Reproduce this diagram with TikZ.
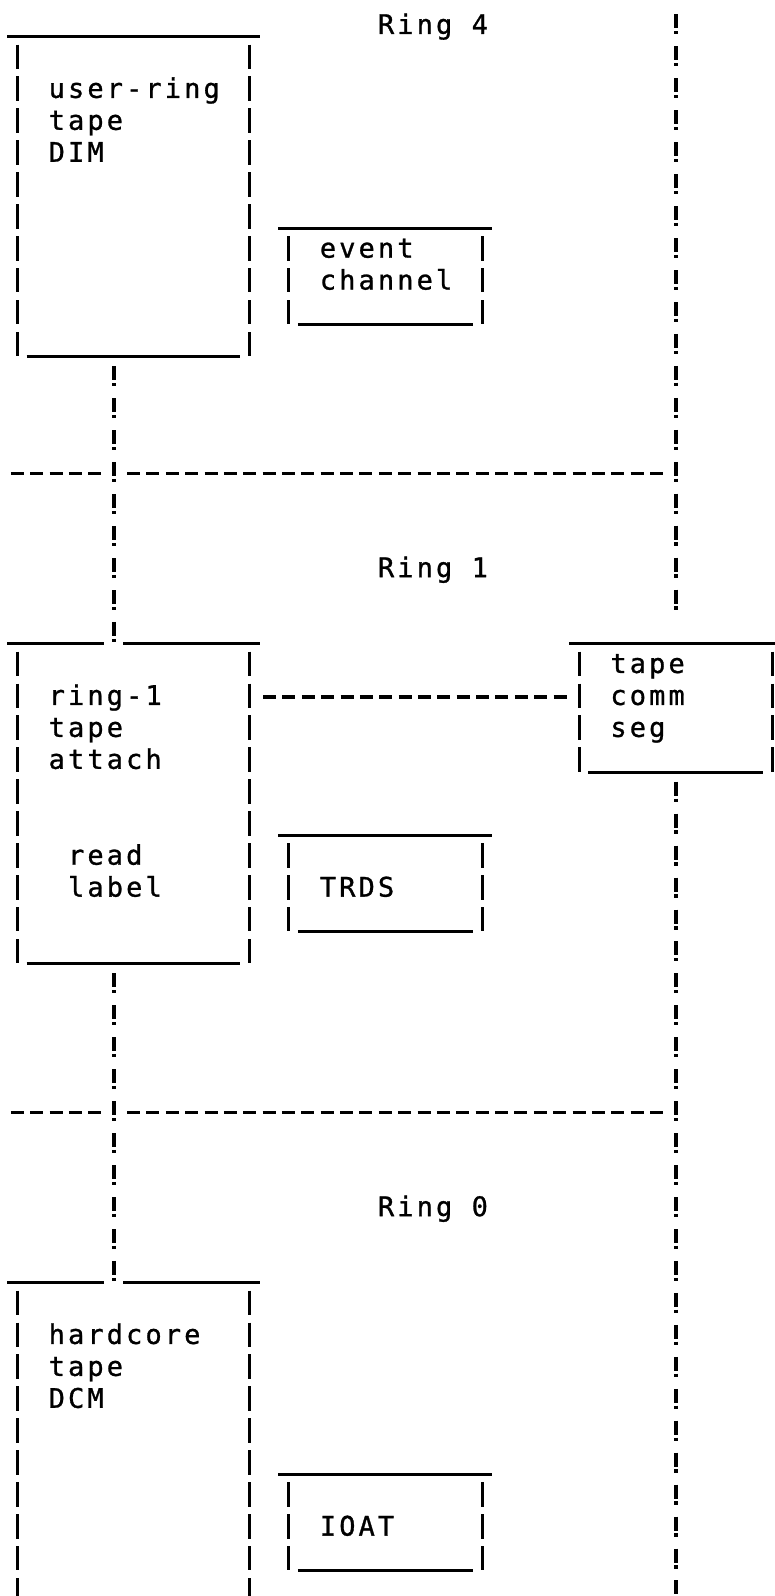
\documentclass[tikz,border=0pt]{standalone}
\usepackage{fontspec}
\newfontfamily\tapefont[LetterSpace=11.5, FakeBold=1]{DejaVu Sans Mono}
\usetikzlibrary{calc, fit}

\begin{document}
\begin{tikzpicture}[x=9.685pt, y=-15.975pt,
  slot/.style={inner sep=0pt},
  rule/.style={line width=1.4pt},
  bar/.style={line width=1.5pt},
  bang/.style={line width=1.7pt, dash pattern=on 7pt off 1.4pt on 1.6pt off 5.975pt},
  ringline/.style={line width=1.6pt, dash pattern=on 6.5pt off 3.185pt},
  txt/.style={font=\tapefont\fontsize{13.5pt}{16pt}\selectfont, anchor=base west, inner sep=0pt}]
\useasboundingbox (-0.893,-0.814) rectangle (39.066,49.14);

% lanes and the link row
\coordinate (lane) at (5,0);
\coordinate (wall) at (34,0);
\coordinate (link) at (0,21);
\coordinate (top) at (34,-0.36);
\coordinate (bottom) at (34,49.4);

% boxes
\node[slot, fit={(-0.5,0.34) (12.5,10.34)}] (dim) {};
\node[slot, fit={(13.5,6.34) (24.5,9.34)}] (event) {};
\node[slot, fit={(-0.5,19.34) (12.5,29.34)}] (attach) {};
\node[slot, fit={(28.5,19.34) (39.5,23.34)}] (comm) {};
\node[slot, fit={(13.5,25.34) (24.5,28.34)}] (trds) {};
\node[slot, fit={(-0.5,39.34) (12.5,51.34)}] (dcm) {};
\node[slot, fit={(13.5,45.34) (24.5,48.34)}] (ioat) {};

% top rules
\foreach \b in {dim, event, comm, trds, ioat}
  \draw[rule] (\b.north west) -- (\b.north east);
\foreach \b in {attach, dcm} {
  \draw[rule] (\b.north west) -- ($(\b.north west)+(5,0)$);
  \draw[rule] ($(\b.north west)+(6,0)$) -- (\b.north east);
}
% bottom rules
\foreach \b in {dim, event, attach, comm, trds, ioat}
  \draw[rule] ($(\b.south west)+(1,0)$) -- ($(\b.south east)+(-1,0)$);

% side bars
\foreach \c/\a/\z in {0/1/10, 12/1/10, 14/7/9, 24/7/9, 0/20/29, 12/20/29,
    29/20/23, 39/20/23, 14/26/28, 24/26/28, 0/40/50, 12/40/50, 14/46/48, 24/46/48}
  \foreach \r in {\a,...,\z}
    \draw[bar] (\c,\r-0.42) -- (\c,\r+0.34);

% ring boundaries
\foreach \r in {14, 34} {
  \draw[ringline] (-0.335,\r) -- (4.5,\r);
  \draw[ringline] (5.665,\r) -- (33.5,\r);
}

% lanes
\draw[bang] (top) -- ($(comm.north -| wall)+(0,-0.75)$);
\draw[bang, shorten <=4.8pt] (comm.south -| wall) -- (bottom);
\draw[bang, shorten <=4.8pt] (dim.south -| lane) -- (attach.north -| lane);
\draw[bang, shorten <=4.8pt] (attach.south -| lane) -- (dcm.north -| lane);
\draw[ringline, shorten <=1.6pt] (attach.east |- link) -- (comm.west |- link);

% labels
\node[txt] (ring4) at (18.6,0.25) {Ring 4};
\node[txt] (ring1) at (18.6,17.25) {Ring 1};
\node[txt] (ring0) at (18.6,37.25) {Ring 0};
\foreach \r/\t in {2/user-ring, 3/tape, 4/DIM}
  \node[txt] (dim-\r) at (1.6,\r+0.25) {\t};
\foreach \r/\t in {7/event, 8/channel}
  \node[txt] (event-\r) at (15.6,\r+0.25) {\t};
\foreach \r/\t in {21/ring-1, 22/tape, 23/attach}
  \node[txt] (attach-\r) at (1.6,\r+0.25) {\t};
\foreach \r/\t in {26/read, 27/label}
  \node[txt] (attach-\r) at (2.6,\r+0.25) {\t};
\foreach \r/\t in {20/tape, 21/comm, 22/seg}
  \node[txt] (comm-\r) at (30.6,\r+0.25) {\t};
\node[txt] (trds-27) at (15.6,27.25) {TRDS};
\foreach \r/\t in {41/hardcore, 42/tape, 43/DCM}
  \node[txt] (dcm-\r) at (1.6,\r+0.25) {\t};
\node[txt] (ioat-47) at (15.6,47.25) {IOAT};
\end{tikzpicture}
\end{document}
